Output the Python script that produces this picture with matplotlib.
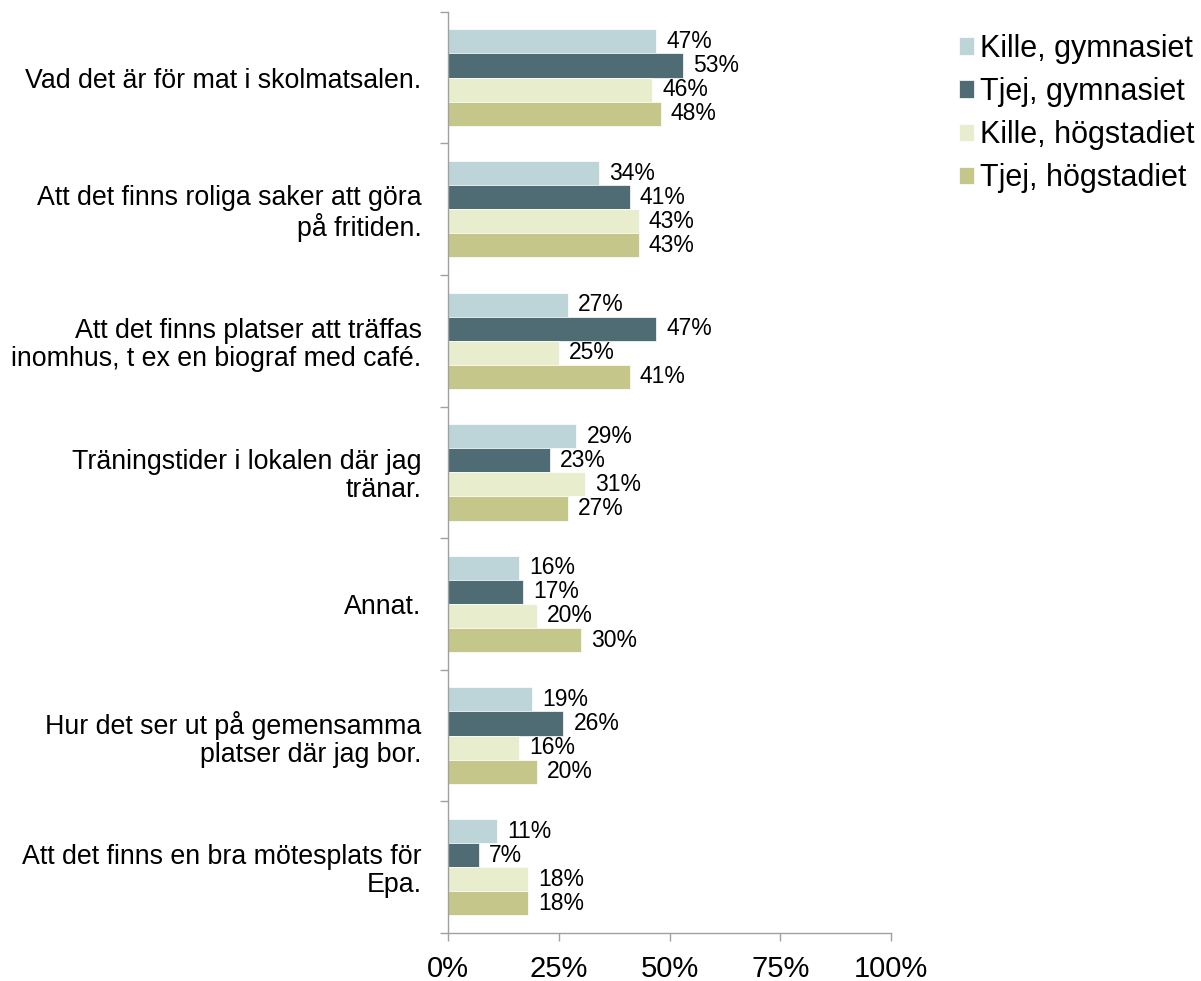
import numpy as np
import matplotlib.pyplot as plt

plt.rcParams['font.family'] = ['Liberation Sans', 'DejaVu Sans']

categories = [
    "Vad det är för mat i skolmatsalen.",
    "Att det finns roliga saker att göra\npå fritiden.",
    "Att det finns platser att träffas\ninomhus, t ex en biograf med café.",
    "Träningstider i lokalen där jag\ntränar.",
    "Annat.",
    "Hur det ser ut på gemensamma\nplatser där jag bor.",
    "Att det finns en bra mötesplats för\nEpa.",
]
series_names = ["Kille, gymnasiet", "Tjej, gymnasiet", "Kille, högstadiet", "Tjej, högstadiet"]
kille_gymn = [47, 34, 27, 29, 16, 19, 11]
tjej_gymn = [53, 41, 47, 23, 17, 26, 7]
kille_hog = [46, 43, 25, 31, 20, 16, 18]
tjej_hog = [48, 43, 41, 27, 30, 20, 18]
colors = ["#BDD5D8", "#4F6B73", "#E8EDCD", "#C5C689"]

series = [kille_gymn, tjej_gymn, kille_hog, tjej_hog]

fig = plt.figure(figsize=(12.01, 9.81), dpi=100)
ax = fig.add_axes([0.373, 0.049, 0.369, 0.939])

y = np.arange(len(categories))
h = 0.183
for i, (vals, name, c) in enumerate(zip(series, series_names, colors)):
    pos = y + (i - 1.5) * h
    bars = ax.barh(pos, vals, height=h, color=c, label=name, edgecolor='white', linewidth=0.5)
    for b, v in zip(bars, vals):
        ax.text(v + 2.3, b.get_y() + h / 2, f"{v}%", va='center', ha='left', fontsize=16.5)

ax.set_ylim(len(categories) - 0.5, -0.5)
ax.set_xlim(0, 100)
ax.set_xticks([0, 25, 50, 75, 100])
ax.set_xticklabels(["0%", "25%", "50%", "75%", "100%"], fontsize=21)
ax.set_yticks(y)
ax.set_yticklabels(categories, fontsize=19.3, linespacing=1.1)
ax.set_yticks(np.arange(-0.5, len(categories) + 0.5, 1), minor=True)
ax.tick_params(axis='y', which='major', length=0, pad=19)
ax.tick_params(axis='y', which='minor', length=6, color='#A0A0A0', width=1)
ax.tick_params(axis='x', length=6, color='#A0A0A0', width=1, pad=10)

for s in ['top', 'right']:
    ax.spines[s].set_visible(False)
for s in ['left', 'bottom']:
    ax.spines[s].set_color('#A0A0A0')
    ax.spines[s].set_linewidth(1)

fig.legend(loc='upper left', bbox_to_anchor=(0.788, 0.978), frameon=False, fontsize=22,
           handlelength=0.5, handleheight=0.5, handletextpad=0.2, labelspacing=0.43,
           borderaxespad=0)

fig.savefig("out.png", dpi=100)
